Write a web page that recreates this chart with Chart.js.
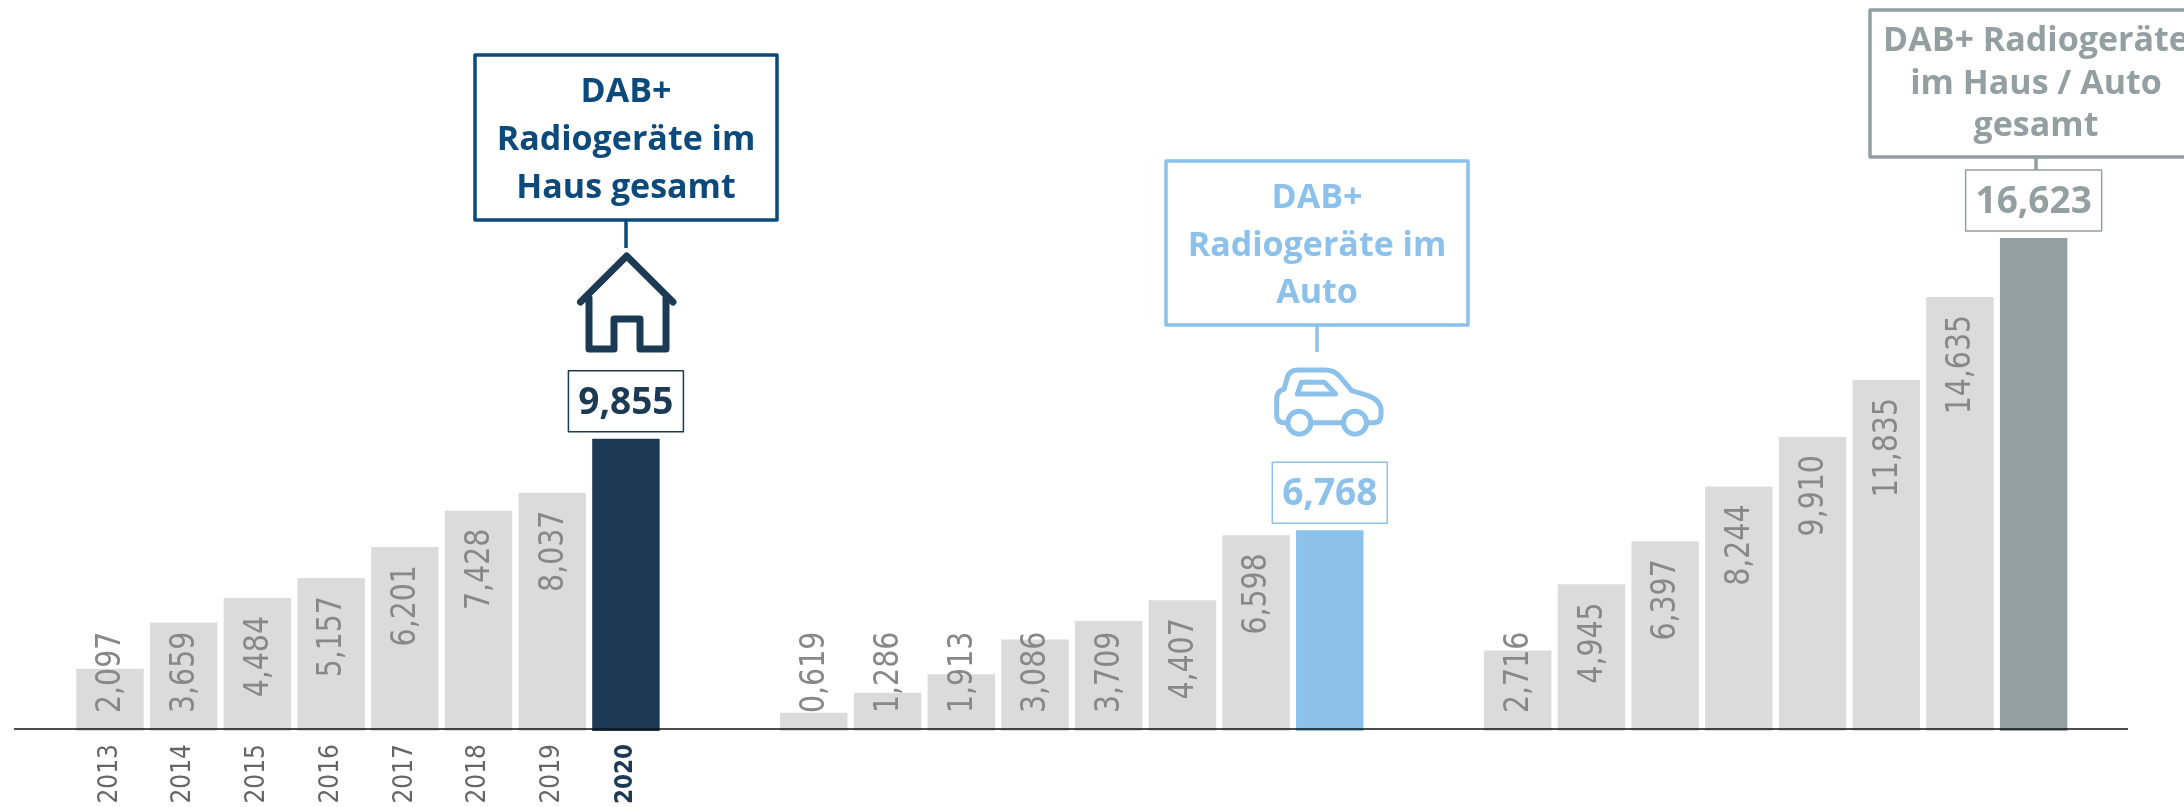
<!DOCTYPE html>
<html><head><meta charset="utf-8">
<style>html,body{margin:0;padding:0;background:#fff;overflow:hidden}canvas{display:block}</style>
<script src="https://cdn.jsdelivr.net/npm/chart.js@4"></script>
</head><body><div style="width:2184px;height:807px"><canvas id="c" width="2184" height="807"></canvas></div>
<script>
const years = ['2013','2014','2015','2016','2017','2018','2019','2020'];
const houseValues = [2.097,3.659,4.484,5.157,6.201,7.428,8.037,9.855];
const carValues = [0.619,1.286,1.913,3.086,3.709,4.407,6.598,6.768];
const totalValues = [2.716,4.945,6.397,8.244,9.910,11.835,14.635,16.623];
const groups = [houseValues, carValues, totalValues];
const groupColors = ['#1c3a54','#8bc1ea','#949fa1'];
const groupStep = 9.55;
const barGrey = '#dbdbdb';

const points=[], colors=[];
groups.forEach((vals,g)=>vals.forEach((v,i)=>{
  points.push({x:g*groupStep+i,y:v});
  colors.push(i===vals.length-1?groupColors[g]:barGrey);
}));
const fmt = v => v.toFixed(3).replace('.',',');

const callouts = [
 {lines:['DAB+','Radiogeräte im','Haus gesamt'],text:'#0b4a7a',box:[475,55,302,165],base:[102,150,198],stemX:626,stemEnd:248,group:0},
 {lines:['DAB+','Radiogeräte im','Auto'],text:'#8bc1ea',box:[1166,161,302,164],base:[208,256,303],stemX:1317,stemEnd:352,group:1},
 {lines:['DAB+ Radiogeräte','im Haus / Auto','gesamt'],text:'#949fa1',box:[1870,10,332,147],base:[51,94,136],stemX:2036,stemEnd:170,group:2}
];
const VALUE_FONT='bold 37px "Open Sans"', CALL_FONT='bold 34px "Open Sans"';

function house(ctx){
  ctx.save();ctx.strokeStyle='#1c3a54';ctx.lineWidth=7;ctx.lineJoin='round';ctx.lineCap='round';
  ctx.beginPath();ctx.moveTo(580.5,302);ctx.lineTo(626.7,256);ctx.lineTo(673,302);ctx.stroke();
  ctx.beginPath();ctx.moveTo(589,298);ctx.lineTo(589,349);ctx.lineTo(614,349);ctx.lineTo(614,319);ctx.lineTo(640,319);ctx.lineTo(640,349);ctx.lineTo(666,349);ctx.lineTo(666,298);ctx.stroke();
  ctx.restore();
}
function car(ctx){
  const X=x=>1130+x/3,Y=y=>140+y/3;
  ctx.save();ctx.strokeStyle='#8bc1ea';ctx.lineWidth=5;ctx.lineJoin='round';ctx.lineCap='round';
  ctx.beginPath();
  ctx.moveTo(X(472),Y(848));ctx.lineTo(X(462),Y(848));
  ctx.quadraticCurveTo(X(440),Y(848),X(440),Y(825));
  ctx.lineTo(X(440),Y(780));
  ctx.quadraticCurveTo(X(440),Y(752),X(462),Y(748));
  ctx.lineTo(X(472),Y(712));
  ctx.quadraticCurveTo(X(478),Y(690),X(505),Y(690));
  ctx.lineTo(X(585),Y(690));
  ctx.quadraticCurveTo(X(612),Y(690),X(628),Y(708));
  ctx.lineTo(X(665),Y(752));
  ctx.lineTo(X(712),Y(766));
  ctx.quadraticCurveTo(X(753),Y(780),X(753),Y(812));
  ctx.lineTo(X(753),Y(825));
  ctx.quadraticCurveTo(X(753),Y(848),X(732),Y(848));
  ctx.lineTo(X(710),Y(848));
  ctx.moveTo(X(543),Y(848));ctx.lineTo(X(640),Y(848));
  ctx.stroke();
  ctx.beginPath();ctx.arc(X(508),Y(848),11.5,0,Math.PI*2);ctx.stroke();
  ctx.beginPath();ctx.arc(X(675),Y(848),11.5,0,Math.PI*2);ctx.stroke();
  ctx.beginPath();ctx.moveTo(X(514),Y(727));ctx.lineTo(X(583),Y(727));ctx.lineTo(X(617),Y(762));ctx.lineTo(X(502),Y(762));ctx.closePath();ctx.stroke();
  ctx.restore();
}

const overlay = {
 id:'overlay',
 afterDatasetsDraw(chart){
  const {ctx,scales:{x,y}}=chart;
  const y0=y.getPixelForValue(0);
  ctx.save();ctx.strokeStyle='#111';ctx.lineWidth=1.5;ctx.beginPath();ctx.moveTo(14,y0-2);ctx.lineTo(2128,y0-2);ctx.stroke();
  const SQ=0.835;
  ctx.font='34px "DejaVu Sans"';ctx.fillStyle='#888888';ctx.textBaseline='middle';ctx.textAlign='left';
  points.forEach((p,i)=>{
    if(i%8===7)return;
    const label=fmt(p.y),w=ctx.measureText(label).width*SQ,px=x.getPixelForValue(p.x),top=y.getPixelForValue(p.y);
    const bottom=Math.min(y0-18,top+18+w);
    ctx.save();ctx.translate(px+1.5,bottom);ctx.rotate(-Math.PI/2);ctx.scale(SQ,1);ctx.fillText(label,0,0);ctx.restore();
  });
  callouts.forEach(c=>{
    const vals=groups[c.group],last=vals[vals.length-1];
    const cx=x.getPixelForValue(c.group*groupStep+vals.length-1),top=y.getPixelForValue(last);
    const col=groupColors[c.group];
    ctx.strokeStyle=c.text;ctx.lineWidth=3.5;ctx.lineJoin='round';
    ctx.strokeRect(c.box[0],c.box[1],c.box[2],c.box[3]);
    ctx.beginPath();ctx.moveTo(c.stemX,c.box[1]+c.box[3]);ctx.lineTo(c.stemX,c.stemEnd);ctx.stroke();
    ctx.fillStyle=c.text;ctx.font=CALL_FONT;ctx.textAlign='center';ctx.textBaseline='alphabetic';
    const mid=c.box[0]+c.box[2]/2;
    c.lines.forEach((l,i)=>ctx.fillText(l,mid,c.base[i]));
    const bw=c.group===2?136:115,bh=61;
    ctx.strokeStyle=col;ctx.lineWidth=1.5;ctx.fillStyle='#fff';
    ctx.fillRect(cx-bw/2,top-7-bh,bw,bh);ctx.strokeRect(cx-bw/2,top-7-bh,bw,bh);
    ctx.fillStyle=col;ctx.font=VALUE_FONT;ctx.textBaseline='middle';
    ctx.fillText(fmt(last),cx,top-7-bh/2+2);
  });
  house(ctx);car(ctx);
  ctx.restore();
 }
};

new Chart(document.getElementById('c'),{
 type:'bar',
 data:{datasets:[{data:points,backgroundColor:colors,borderWidth:0,barPercentage:0.915,categoryPercentage:1}]},
 plugins:[overlay],
 options:{
  responsive:false,animation:false,
  layout:{padding:0},
  plugins:{legend:{display:false},tooltip:{enabled:false},title:{display:false}},
  scales:{
   x:{type:'linear',offset:false,min:-1.4925,max:28.14,
    grid:{display:false,drawTicks:false},border:{display:false},
    afterBuildTicks:s=>{s.ticks=years.map((_,i)=>({value:i}));},
    afterFit:s=>{s.height=76;},
    ticks:{autoSkip:false,minRotation:90,maxRotation:90,padding:13,
     callback:v=>years[v],
     color:c=>c.index===years.length-1?'#1c3a54':'#666666',
     font:c=>({family:'"DejaVu Sans Condensed","DejaVu Sans"',size:c.index===years.length-1?24:26,weight:c.index===years.length-1?'bold':'normal'})}
   },
   y:{display:false,min:0,max:24.65}
  }
 }
});
</script></body></html>
